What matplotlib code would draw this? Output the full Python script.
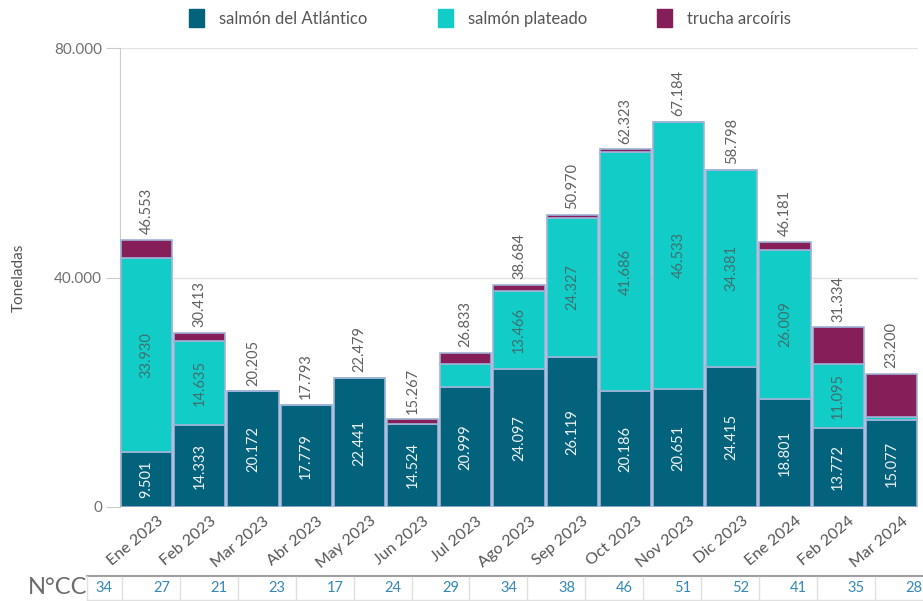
import matplotlib.pyplot as plt
from matplotlib.lines import Line2D
from matplotlib.patches import Patch
import numpy as np

plt.rcParams['font.family'] = ['Lato', 'DejaVu Sans']

meses = ['Ene 2023', 'Feb 2023', 'Mar 2023', 'Abr 2023', 'May 2023', 'Jun 2023',
         'Jul 2023', 'Ago 2023', 'Sep 2023', 'Oct 2023', 'Nov 2023', 'Dic 2023',
         'Ene 2024', 'Feb 2024', 'Mar 2024']
atlantico = [9501, 14333, 20172, 17779, 22441, 14524, 20999, 24097, 26119,
             20186, 20651, 24415, 18801, 13772, 15077]
plateado = [33930, 14635, 0, 0, 0, 0, 3850, 13466, 24327,
            41686, 46533, 34381, 26009, 11095, 620]
totales = [46553, 30413, 20205, 17793, 22479, 15267, 26833, 38684, 50970,
           62323, 67184, 58798, 46181, 31334, 23200]
trucha = [t - a - p for t, a, p in zip(totales, atlantico, plateado)]
ncc = [34, 27, 21, 23, 17, 24, 29, 34, 38, 46, 51, 52, 41, 35, 28]

c_atl = '#03627c'
c_pla = '#12cdc7'
c_tru = '#861e5a'
edge = '#9fb3d6'


def fmt(v):
    return f'{v:,}'.replace(',', '.')


W, H = 923, 601
fig = plt.figure(figsize=(W / 100, H / 100), dpi=100)
ax = fig.add_axes([120 / W, 1 - 507 / H, 798 / W, 459 / H])

x = np.arange(len(meses))
bw = 0.965
ax.bar(x, atlantico, bw, color=c_atl, edgecolor=edge, linewidth=1.2, zorder=3)
ax.bar(x, plateado, bw, bottom=atlantico, color=c_pla, edgecolor=edge,
       linewidth=1.2, zorder=3)
bot2 = [a + p for a, p in zip(atlantico, plateado)]
ax.bar(x, trucha, bw, bottom=bot2, color=c_tru, edgecolor=edge,
       linewidth=1.2, zorder=3)

for i in x:
    ax.text(i, atlantico[i] / 2, fmt(atlantico[i]), rotation=90, ha='center',
            va='center', color='#eef2f4', fontsize=10.5, zorder=5)
    if plateado[i] > 8000:
        ax.text(i, atlantico[i] + plateado[i] / 2, fmt(plateado[i]), rotation=90,
                ha='center', va='center', color='#3f6f70', fontsize=10.5, zorder=5)
    ax.annotate(fmt(totales[i]), (i, totales[i]), xytext=(0, 4),
                textcoords='offset points', rotation=90, ha='center', va='bottom',
                color='#606060', fontsize=10.5, zorder=5)

ax.set_xlim(-0.5, len(meses) - 0.5)
ax.set_ylim(0, 80000)
ax.set_yticks([0, 40000, 80000])
ax.set_yticklabels(['0', '40.000', '80.000'])
ax.yaxis.grid(True, color='#e3e3e3', linewidth=1, zorder=0)
ax.tick_params(axis='y', length=10, color='#cccccc', labelcolor='#707070',
               labelsize=11, pad=3)
ax.set_xticks(x)
ax.set_xticklabels(meses, rotation=40, ha='right', rotation_mode='anchor',
                   color='#555555', fontsize=11.5)
ax.tick_params(axis='x', length=0, pad=5)
for lab in ax.get_xticklabels():
    lab.set_transform(lab.get_transform() +
                      plt.matplotlib.transforms.ScaledTranslation(0.1, 0, fig.dpi_scale_trans))
for s in ['top', 'right', 'bottom']:
    ax.spines[s].set_visible(False)
ax.spines['left'].set_color('#cccccc')
ax.set_ylabel('Toneladas', color='#555555', fontsize=11, labelpad=20)

handles = [Patch(color=c_atl, label='salmón del Atlántico'),
           Patch(color=c_pla, label='salmón plateado'),
           Patch(color=c_tru, label='trucha arcoíris')]
fig.legend(handles=handles, loc='center', bbox_to_anchor=(490 / W, 1 - 18 / H),
           ncol=3, frameon=False, fontsize=12, handlelength=0.9, handleheight=1.2,
           columnspacing=4.2, handletextpad=0.9, labelcolor='#555555')

# fila N°CC
fig.text(28 / W, 1 - 588 / H, 'N°CC', fontsize=17, color='#6b6b6b',
         ha='left', va='center')
fig.add_artist(Line2D([87 / W, 1], [1 - 576 / H] * 2, color='#a0a0a0', lw=1.5))
fig.add_artist(Line2D([87 / W, 1], [1 - 600 / H] * 2, color='#e0e0e0', lw=1))
fig.add_artist(Line2D([87 / W] * 2, [1 - 576 / H, 1 - 600 / H], color='#e0e0e0', lw=1))
cw = 57.9
for i, v in enumerate(ncc):
    fig.text((112 + cw * i) / W, 1 - 588 / H, str(v), fontsize=10.5,
             color='#3487b8', ha='right', va='center')
    xs = (122 + cw * i) / W
    fig.add_artist(Line2D([xs, xs], [1 - 577 / H, 1 - 600 / H], color='#e0e0e0', lw=1))

fig.savefig('out.png', dpi=100, facecolor='white')
